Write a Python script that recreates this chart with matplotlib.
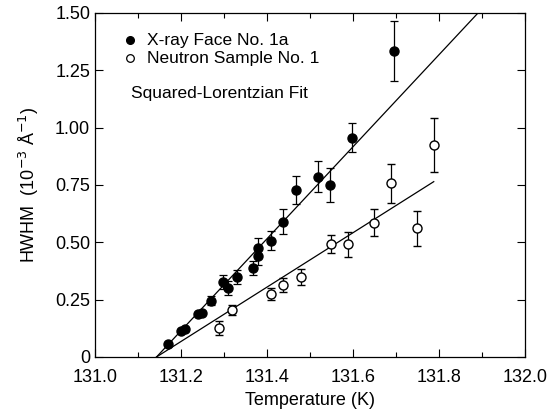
import matplotlib
matplotlib.use("Agg")
import matplotlib.pyplot as plt
from matplotlib.ticker import MultipleLocator, FuncFormatter
import numpy as np

plt.rcParams['font.family'] = ['Liberation Sans', 'DejaVu Sans']

# X-ray Face No. 1a (filled)
xray_T = [131.170, 131.199, 131.209, 131.239, 131.248, 131.269, 131.298, 131.309,
          131.330, 131.368, 131.378, 131.378, 131.409, 131.438, 131.467, 131.518,
          131.547, 131.598, 131.696]
xray_H = [0.057, 0.115, 0.122, 0.186, 0.193, 0.246, 0.326, 0.302,
          0.347, 0.389, 0.440, 0.477, 0.507, 0.590, 0.728, 0.786,
          0.750, 0.956, 1.335]
xray_err = [0.0, 0.0, 0.0, 0.0, 0.0, 0.02, 0.03, 0.03,
            0.03, 0.03, 0.04, 0.04, 0.04, 0.055, 0.063, 0.067,
            0.073, 0.062, 0.13]

# Neutron Sample No. 1 (open)
neut_T = [131.288, 131.319, 131.409, 131.438, 131.478, 131.549, 131.589,
          131.649, 131.688, 131.748, 131.788]
neut_H = [0.125, 0.205, 0.275, 0.314, 0.350, 0.493, 0.491,
          0.586, 0.758, 0.561, 0.926]
neut_err = [0.03, 0.02, 0.025, 0.03, 0.035, 0.04, 0.055,
            0.06, 0.085, 0.077, 0.118]

# Linear fits: HWHM = slope * (T - Tc)
fit_Tc = 131.143
xray_slope = 2.005
xray_fit_T = [131.143, 131.891]
neut_slope = 1.185
neut_fit_T = [131.143, 131.788]

fig = plt.figure(figsize=(5.56, 4.17), dpi=100)
ax = fig.add_axes([0.171, 0.144, 0.773, 0.825])

xf = np.array(xray_fit_T)
ax.plot(xf, xray_slope * (xf - fit_Tc), color='black', lw=0.9)
nf = np.array(neut_fit_T)
ax.plot(nf, neut_slope * (nf - fit_Tc), color='black', lw=0.9)

ax.errorbar(xray_T, xray_H, yerr=xray_err, fmt='o', color='black', ms=6.5,
            mfc='black', mec='black', ecolor='black', elinewidth=0.9,
            capsize=3, capthick=0.9, zorder=3)
ax.errorbar(neut_T, neut_H, yerr=neut_err, fmt='o', color='black', ms=6.5,
            mfc='white', mec='black', mew=1.0, ecolor='black', elinewidth=0.9,
            capsize=3, capthick=0.9, zorder=3)

ax.set_xlim(131.0, 132.0)
ax.set_ylim(0, 1.5)
ax.xaxis.set_major_locator(MultipleLocator(0.2))
ax.xaxis.set_minor_locator(MultipleLocator(0.1))
ax.yaxis.set_major_locator(MultipleLocator(0.25))
ax.xaxis.set_major_formatter(FuncFormatter(lambda v, p: f"{v:.1f}"))
ax.yaxis.set_major_formatter(FuncFormatter(lambda v, p: "0" if abs(v) < 1e-9 else f"{v:.2f}"))
ax.tick_params(which='both', direction='in', top=True, right=True, labelsize=13, width=0.8)
ax.tick_params(which='major', length=6)
ax.tick_params(which='minor', length=3.5)
ax.tick_params(axis='x', pad=9)
for s in ax.spines.values():
    s.set_linewidth(0.9)

ax.set_xlabel("Temperature (K)", fontsize=13, labelpad=4)
ax.set_ylabel("HWHM  (10$^{-3}$ Å$^{-1}$)", fontsize=13, labelpad=10)

# legend
ax.plot([131.082], [1.380], 'o', color='black', ms=5.5)
ax.plot([131.082], [1.303], 'o', mfc='white', mec='black', mew=0.9, ms=5.5)
ax.text(131.12, 1.380, "X-ray Face No. 1a", fontsize=12.5, va='center', ha='left')
ax.text(131.12, 1.303, "Neutron Sample No. 1", fontsize=12.5, va='center', ha='left')
ax.text(131.083, 1.150, "Squared-Lorentzian Fit", fontsize=12.5, va='center', ha='left')

fig.savefig("out.png", dpi=100)
